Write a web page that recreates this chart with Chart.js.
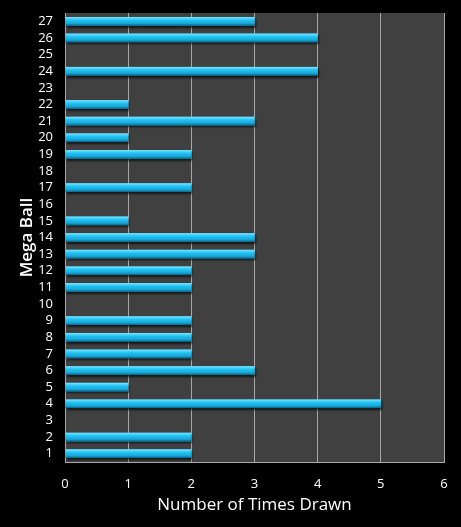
<!DOCTYPE html>
<html>
<head>
<meta charset="utf-8">
<script src="https://cdn.jsdelivr.net/npm/chart.js@4/dist/chart.umd.min.js"></script>
<style>
  html, body { margin: 0; padding: 0; background: #000; }
  #wrap { width: 461px; height: 527px; }
</style>
</head>
<body>
<div id="wrap"><canvas id="megaChart"></canvas></div>
<script>
// Mega Ball numbers and how often each was drawn
const balls = ['1','2','3','4','5','6','7','8','9','10','11','12','13','14','15','16','17','18','19','20','21','22','23','24','25','26','27'];
const timesDrawn = [2, 2, 0, 5, 1, 3, 2, 2, 2, 0, 2, 2, 3, 3, 1, 0, 2, 0, 2, 1, 3, 1, 0, 4, 0, 4, 3];
const xTicks = [0, 1, 2, 3, 4, 5, 6];

// gray plot background + bar shadow
const plotBg = {
  id: 'plotBg',
  beforeDraw(chart) {
    const { ctx, chartArea: a } = chart;
    ctx.save();
    ctx.fillStyle = '#404040';
    ctx.fillRect(a.left, a.top, a.right - a.left, a.bottom - a.top);
    ctx.restore();
  },
  beforeDatasetsDraw(chart) {
    const ctx = chart.ctx;
    ctx.save();
    ctx.shadowColor = 'rgba(0,0,0,0.7)';
    ctx.shadowOffsetY = 2;
    ctx.shadowOffsetX = 1;
    ctx.shadowBlur = 2;
  },
  afterDatasetsDraw(chart) {
    const ctx = chart.ctx;
    ctx.restore();
    // highlight stripe on top of each bar
    const meta = chart.getDatasetMeta(0);
    ctx.save();
    meta.data.forEach(bar => {
      const w = bar.x - bar.base;
      if (w <= 0) return;
      const top = bar.y - bar.height / 2;
      const g = ctx.createLinearGradient(0, top, 0, top + bar.height);
      g.addColorStop(0, '#7fe3ff');
      g.addColorStop(0.35, '#22c4f4');
      g.addColorStop(0.75, '#16a6d6');
      g.addColorStop(1, '#0b5f80');
      ctx.fillStyle = g;
      ctx.fillRect(bar.base, top, w, bar.height);
    });
    ctx.restore();
  }
};

new Chart(document.getElementById('megaChart'), {
  type: 'bar',
  data: {
    labels: balls,
    datasets: [{
      label: 'Number of Times Drawn',
      data: timesDrawn,
      backgroundColor: '#1eb8e8',
      borderWidth: 0,
      barPercentage: 0.52,
      categoryPercentage: 1
    }]
  },
  options: {
    indexAxis: 'y',
    responsive: true,
    maintainAspectRatio: false,
    animation: false,
    layout: { padding: { top: 13, right: 17, left: 0, bottom: 0 } },
    plugins: {
      legend: { display: false },
      tooltip: { enabled: false }
    },
    scales: {
      x: {
        min: 0,
        max: 6,
        afterBuildTicks(scale) {
          scale.ticks = xTicks.map(v => ({ value: v }));
        },
        afterFit(scale) {
          scale.height = 65;
          scale.paddingLeft = 0;
          scale.paddingRight = 0;
        },
        grid: { color: '#a8a8a8', lineWidth: 1, drawTicks: false },
        border: { color: '#a8a8a8' },
        ticks: { color: '#ffffff', padding: 14, font: { family: 'Open Sans', size: 13 } },
        title: {
          display: true,
          text: 'Number of Times Drawn',
          color: '#ffffff',
          padding: { top: 2, bottom: 12 },
          font: { family: 'Open Sans', size: 17 }
        }
      },
      y: {
        reverse: true,
        afterFit(scale) {
          scale.width = 65;
          scale.paddingTop = 0;
          scale.paddingBottom = 0;
        },
        grid: { display: false, drawTicks: false },
        border: { color: '#a8a8a8' },
        ticks: { color: '#ffffff', padding: 12, autoSkip: false, font: { family: 'Open Sans', size: 13 } },
        title: {
          display: true,
          text: 'Mega Ball',
          color: '#ffffff',
          padding: { top: 17, bottom: 0 },
          font: { family: 'Open Sans', size: 17, weight: '600' }
        }
      }
    }
  },
  plugins: [plotBg]
});
</script>
</body>
</html>
